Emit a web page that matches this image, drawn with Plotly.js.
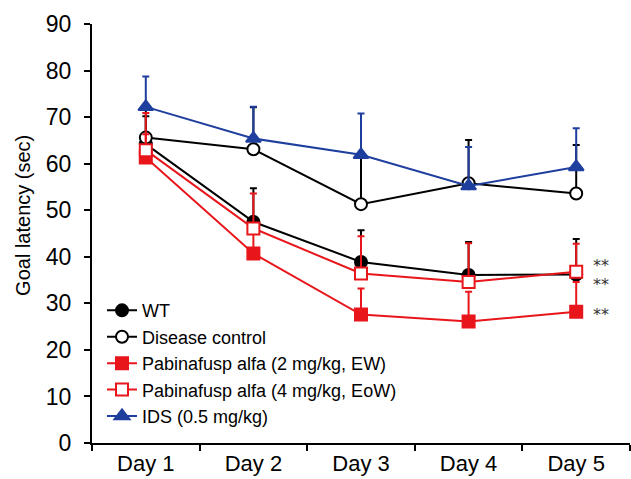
<!DOCTYPE html>
<html>
<head>
<meta charset="utf-8">
<script src="https://cdn.plot.ly/plotly-3.0.1.min.js"></script>
<style>html,body{margin:0;padding:0;background:#fff;}#chart{width:631px;height:479px;}</style>
</head>
<body>
<div id="chart"></div>
<script>
// Categories
var days = ["Day 1", "Day 2", "Day 3", "Day 4", "Day 5"];

// Series means (sec)
var wt        = [64.2, 47.5, 38.9, 36.1, 36.2];
var disease   = [65.6, 63.1, 51.3, 55.8, 53.6];
var pab2      = [61.3, 40.7, 27.6, 26.1, 28.2];
var pab4      = [62.9, 46.1, 36.4, 34.6, 36.8];
var ids       = [72.2, 65.4, 61.9, 55.2, 59.3];

// Upper error (SE) for each series
var wtErr      = [6.0, 7.2, 6.8, 7.1, 7.6];
var diseaseErr = [6.0, 9.0, 10.0, 9.3, 10.4];
var pab2Err    = [5.0, 5.0, 5.6, 6.4, 6.4];
var pab4Err    = [8.0, 7.5, 8.0, 8.3, 6.0];
var idsErr     = [6.5, 6.8, 8.9, 8.4, 8.3];

// Series names and text
var names = ["WT", "Disease control", "Pabinafusp alfa (2 mg/kg, EW)", "Pabinafusp alfa (4 mg/kg, EoW)", "IDS (0.5 mg/kg)"];
var sigText = "**";
var yTitle = "Goal latency (sec)";

var RED = "#e8161b", BLUE = "#1f3f9e", BLACK = "#000000";
var zeros = [0, 0, 0, 0, 0];

function tr(name, y, err, color, symbol, fill, size) {
  return {
    type: "scatter", mode: "lines+markers", name: name, x: days, y: y,
    line: {color: color, width: 2},
    marker: {symbol: symbol, size: size, color: fill, line: {color: color, width: 2}},
    error_y: {type: "data", symmetric: false, array: err, arrayminus: zeros, color: color, thickness: 2, width: 3.5},
    cliponaxis: false
  };
}

var data = [
  tr(names[0], wt, wtErr, BLACK, "circle", BLACK, 12),
  tr(names[1], disease, diseaseErr, BLACK, "circle", "#ffffff", 12),
  tr(names[2], pab2, pab2Err, RED, "square", RED, 12),
  tr(names[3], pab4, pab4Err, RED, "square", "#ffffff", 12),
  tr(names[4], ids, idsErr, BLUE, "triangle-up", BLUE, 13)
];

var sigFont = {family: "DejaVu Sans, sans-serif", size: 16, color: "#333333"};
var annotations = [
  {x: days[4], y: pab4[4], yshift: 5.7, xshift: 25, text: sigText},
  {x: days[4], y: pab4[4], yshift: -13.3, xshift: 25, text: sigText},
  {x: days[4], y: pab2[4], yshift: -3, xshift: 25, text: sigText}
].map(function (a) {
  return Object.assign({xref: "x", yref: "y", showarrow: false, font: sigFont, xanchor: "center", yanchor: "middle"}, a);
});
annotations.push({
  xref: "paper", yref: "paper", x: 0, xshift: -69, y: 0.542, showarrow: false,
  textangle: -90, xanchor: "center", yanchor: "middle", text: yTitle,
  font: {family: "Liberation Sans, Arial, sans-serif", size: 20, color: "#000"}
});

var layout = {
  width: 631, height: 479,
  margin: {l: 92, r: 1, t: 24, b: 36},
  paper_bgcolor: "#ffffff", plot_bgcolor: "#ffffff",
  font: {family: "Liberation Sans, Arial, sans-serif", color: "#000000"},
  showlegend: true,
  legend: {
    x: 0.0186, y: 0.36, xanchor: "left", yanchor: "top",
    bgcolor: "rgba(0,0,0,0)", borderwidth: 0,
    font: {size: 18, color: "#000000"},
    itemwidth: 30, tracegroupgap: 0
  },
  xaxis: {
    type: "category", range: [-0.5, 4.5],
    showline: true, linecolor: "#000", linewidth: 2,
    ticks: "outside", tickson: "boundaries", ticklen: 6, tickwidth: 2, tickcolor: "#000",
    showgrid: false, zeroline: false, ticklabelstandoff: 0,
    tickfont: {size: 22, color: "#000"}
  },
  yaxis: {
    range: [0, 90], dtick: 10, tick0: 0,
    showline: true, linecolor: "#000", linewidth: 2,
    ticks: "outside", ticklen: 6, tickwidth: 2, tickcolor: "#000",
    showgrid: false, zeroline: false, ticklabelstandoff: 8,
    tickfont: {size: 23, color: "#000"}
  },
  annotations: annotations
};

Plotly.newPlot("chart", data, layout, {displayModeBar: false, staticPlot: true});
</script>
</body>
</html>
